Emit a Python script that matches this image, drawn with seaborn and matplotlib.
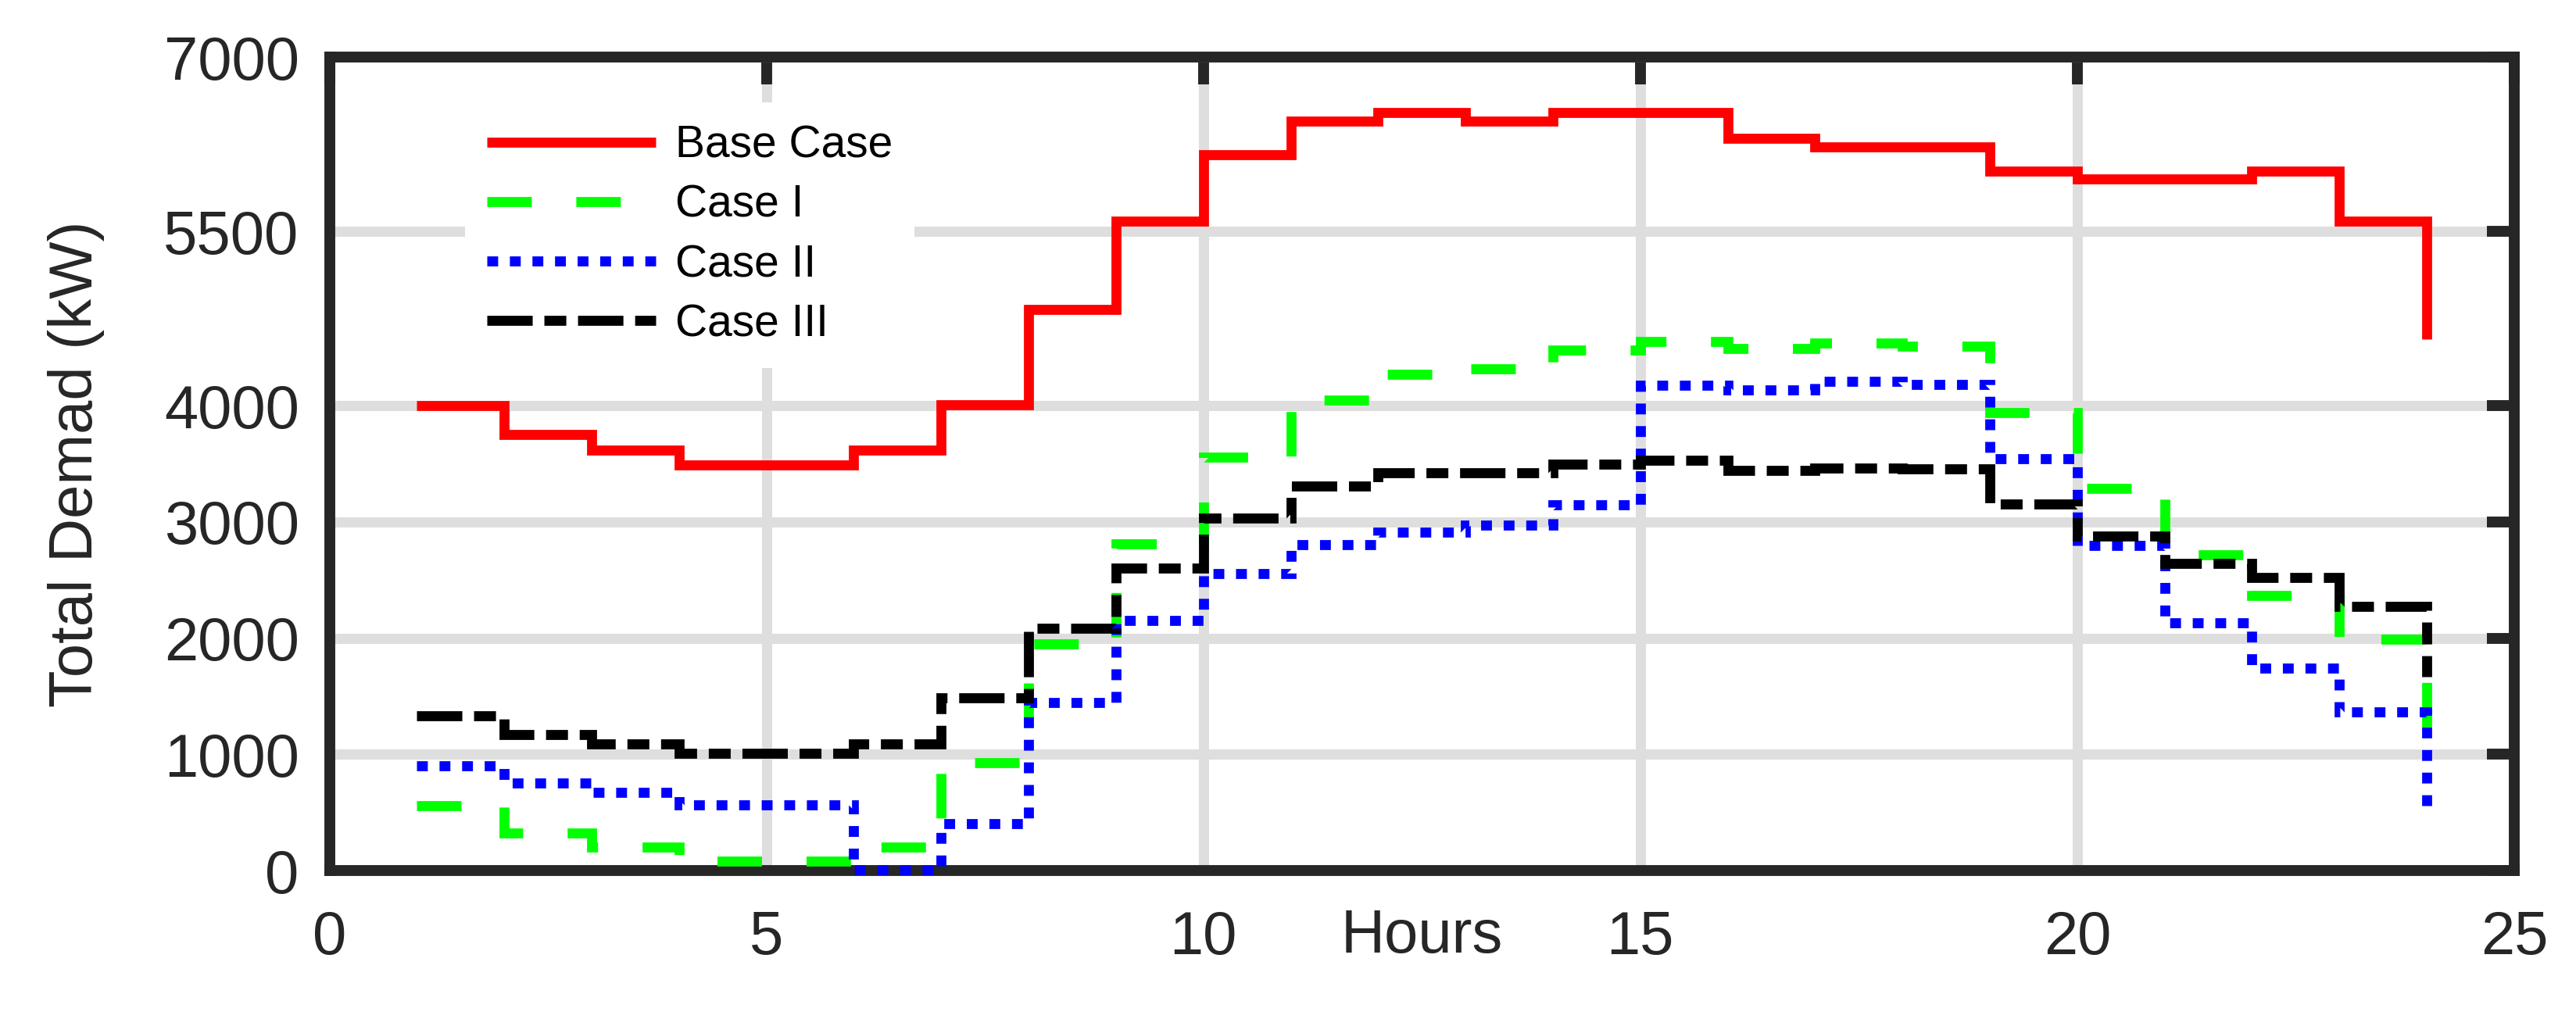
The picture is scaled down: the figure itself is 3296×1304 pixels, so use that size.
import numpy as np
import pandas as pd
import matplotlib
matplotlib.use("Agg")
import matplotlib.pyplot as plt
import seaborn as sns

# ---- data ----
hours = list(range(1, 25))
base_case = [4000, 3750, 3620, 3490, 3490, 3620, 4010, 4830, 5590, 6160, 6450, 6520,
             6450, 6520, 6520, 6300, 6230, 6230, 6020, 5950, 5950, 6020, 5590, 4570]
case_1 = [560, 320, 200, 80, 80, 200, 930, 1950, 2810, 3560, 4050, 4270,
          4320, 4480, 4550, 4490, 4540, 4510, 3940, 3290, 2720, 2370, 1990, 1050]
case_2 = [900, 755, 675, 565, 565, 10, 405, 1445, 2150, 2555, 2805, 2910,
          2975, 3145, 4175, 4135, 4210, 4180, 3545, 2800, 2130, 1740, 1365, 555]
case_3 = [1330, 1170, 1090, 1010, 1010, 1090, 1485, 2085, 2605, 3035, 3310, 3420,
          3420, 3500, 3530, 3445, 3465, 3455, 3155, 2880, 2645, 2525, 2275, 1670]
case_names = ["Base Case", "Case I", "Case II", "Case III"]
x_ticks = [0, 5, 10, 15, 20, 25]
y_ticks = [0, 1000, 2000, 3000, 4000, 5500, 7000]

df = pd.concat([
    pd.DataFrame({"Hours": hours, "Demand": vals, "Case": name})
    for name, vals in zip(case_names, [base_case, case_1, case_2, case_3])
], ignore_index=True)

sns.set_style("white")
plt.rcParams["font.family"] = ["Liberation Sans", "DejaVu Sans"]
plt.rcParams["lines.scale_dashes"] = False
plt.rcParams["lines.dash_capstyle"] = "butt"
plt.rcParams["lines.solid_capstyle"] = "butt"
plt.rcParams["lines.solid_joinstyle"] = "miter"
plt.rcParams["lines.dash_joinstyle"] = "miter"

dark = "#262626"
palette = {"Base Case": "#ff0000", "Case I": "#00ff00", "Case II": "#0000ff", "Case III": "#000000"}
dashes = {"Base Case": "", "Case I": (20.5, 20.5), "Case II": (5.0, 5.4),
          "Case III": (20.9, 5.4, 10.1, 5.4)}

fig = plt.figure(figsize=(16.48, 6.52), dpi=200)
ax = fig.add_axes([0.1279, 0.1457, 0.8481, 0.7983])

sns.lineplot(data=df, x="Hours", y="Demand", hue="Case", style="Case",
             hue_order=case_names, style_order=case_names,
             palette=palette, dashes=dashes, drawstyle="steps-post",
             linewidth=4.6, errorbar=None, legend=False, ax=ax,
             clip_on=False, zorder=3)

ax.set_xlim(0, 25)
ax.set_ylim(0, 7000)
ax.set_xticks(x_ticks)
ax.set_yticks(y_ticks)
ax.set_axisbelow(True)
ax.grid(True, color="#dedede", linewidth=4.7)

for sp in ax.spines.values():
    sp.set_linewidth(5)
    sp.set_color(dark)
    sp.set_visible(True)

ax.tick_params(axis="both", direction="in", length=12.6, width=5, color=dark,
               labelsize=28, labelcolor=dark, top=True, right=True)
ax.tick_params(axis="x", pad=18)
ax.tick_params(axis="y", pad=14)

ax.set_xlabel("Hours", fontsize=28, color=dark)
ax.xaxis.set_label_coords(0.5, -0.046)
ax.set_ylabel("Total Demad (kW)", fontsize=28, color=dark)
ax.yaxis.set_label_coords(-0.103, 0.5)

lines = ax.get_lines()[:4]
leg = ax.legend(lines, case_names, loc="upper left", bbox_to_anchor=(0.062, 0.944),
                borderaxespad=0, fontsize=20.5, handlelength=3.78, handletextpad=0.44,
                labelspacing=0.39, borderpad=0.5, frameon=True, facecolor="white",
                edgecolor="none", framealpha=1, fancybox=False)
for t in leg.get_texts():
    t.set_color("black")

fig.savefig("out.png", dpi=200, facecolor="white")
